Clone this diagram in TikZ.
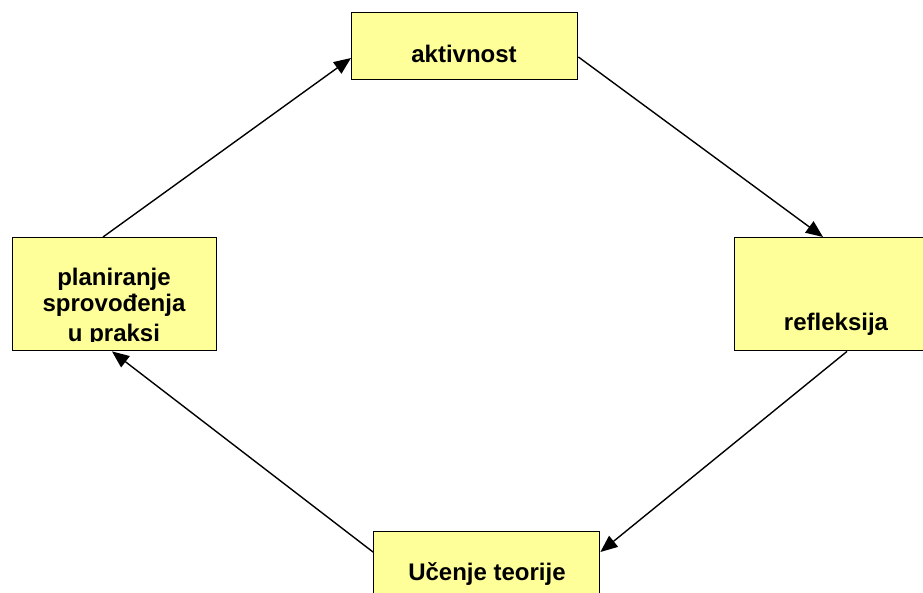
\documentclass[tikz,border=0pt]{standalone}
\usepackage{fontspec}
\setmainfont{Liberation Sans}
\usetikzlibrary{arrows.meta,calc}
\definecolor{boxyellow}{HTML}{FFFF99}
\begin{document}
\begin{tikzpicture}[x=1pt,y=-1pt,
  box/.style={draw=black,line width=1.4pt,fill=boxyellow,inner sep=0pt,anchor=north west},
  lbl/.style={font=\fontsize{24}{27}\selectfont\bfseries,anchor=base,inner sep=0pt},
  arr/.style={line width=1.4pt,-{Triangle[length=17pt,width=14pt]}}]
\useasboundingbox (0,0) rectangle (923,592);
\node[box,minimum width=226pt,minimum height=67pt] (akt) at (351,12) {};
\node[box,minimum width=204pt,minimum height=113pt] (plan) at (12,237) {};
\node[box,minimum width=204pt,minimum height=113pt] (refl) at (734,237) {};
\node[box,minimum width=226pt,minimum height=70pt] (uc) at (373,531) {};
\node[lbl] (takt) at (464,62) {aktivnost};
\node[lbl] (trefl) at (836,330) {refleksija};
\node[lbl] (tuc) at (487,580) {Učenje teorije};
\begin{scope}
  \clip (plan.north west) rectangle ($(plan.south east)+(0,-10)$);
  \node[lbl] (tp1) at (114,285) {planiranje};
  \node[lbl] (tp2) at (114,311) {sprovođenja};
  \node[lbl] (tp3) at (114,341) {u praksi};
\end{scope}
\draw[arr] ($(plan.north west)+(91,0)$) -- ($(akt.north west)+(0,46)$);
\draw[arr] ($(akt.north east)+(0,45)$) -- ($(refl.north west)+(89,0)$);
\draw[arr] ($(refl.south west)+(113,0)$) -- ($(uc.north east)+(0,21)$);
\draw[arr] ($(uc.north west)+(0,21)$) -- ($(plan.south west)+(100,0)$);
\end{tikzpicture}
\end{document}
